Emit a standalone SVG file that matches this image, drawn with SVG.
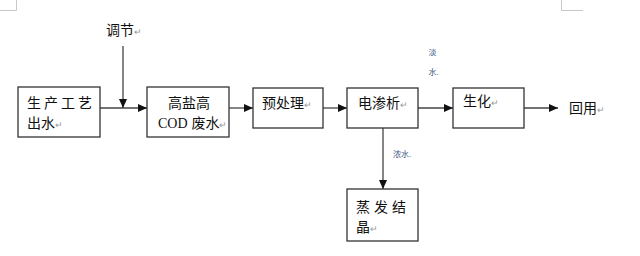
<svg xmlns="http://www.w3.org/2000/svg" width="640" height="256" viewBox="0 0 640 256">
<style>
.box{fill:#fff;stroke:#333;stroke-width:1.3}
.t{font-family:"Liberation Sans","Noto Sans CJK SC",sans-serif;font-size:14px;fill:#111}
.s{font-family:"Liberation Sans","Noto Sans CJK SC",sans-serif;font-size:8px;fill:#3d5580}
.pm{fill:#999;font-size:9px}
.ln{stroke:#444;stroke-width:1.3;fill:none}
.crop{stroke:#c8c8c8;stroke-width:1;fill:none}
</style>
<defs>
<marker id="ah" markerWidth="9" markerHeight="8" refX="9" refY="4" orient="auto" markerUnits="userSpaceOnUse">
<path d="M0,0 L9,4 L0,8 Z" fill="#111"/>
</marker>
</defs>
<rect width="640" height="256" fill="#fff"/>
<path class="crop" d="M0,10.5 H16.5 V0"/>
<path class="crop" d="M561.5,0 V10.5 H583"/>
<g id="connectors">
<line class="ln" x1="100" y1="108" x2="147" y2="108" marker-end="url(#ah)"/>
<line class="ln" x1="123" y1="46" x2="123" y2="108" marker-end="url(#ah)"/>
<line class="ln" x1="229" y1="108" x2="253" y2="108" marker-end="url(#ah)"/>
<line class="ln" x1="323" y1="108" x2="347" y2="108" marker-end="url(#ah)"/>
<line class="ln" x1="418" y1="108" x2="453" y2="108" marker-end="url(#ah)"/>
<line class="ln" x1="524" y1="108" x2="558" y2="108" marker-end="url(#ah)"/>
<line class="ln" x1="383" y1="128" x2="383" y2="189" marker-end="url(#ah)"/>
</g>
<g id="label-tiaojie"><text class="t" x="106" y="35">调节<tspan class="pm">↵</tspan></text></g>
<g id="label-danshui"><text class="s" x="428.5" y="55">淡</text><text class="s" x="428.5" y="75">水<tspan>.</tspan></text></g>
<g id="label-nongshui"><text class="s" x="393" y="157">浓水<tspan>.</tspan></text></g>
<g id="label-huiyong"><text class="t" x="569" y="113">回用<tspan class="pm">↵</tspan></text></g>
<g id="node1">
<rect class="box" x="18" y="87" width="82" height="50"/>
<text class="t" x="27" y="108" letter-spacing="3">生产工艺</text>
<text class="t" x="27" y="128">出水<tspan class="pm">↵</tspan></text>
</g>
<g id="node2">
<rect class="box" x="147" y="87" width="82" height="50"/>
<text class="t" x="168" y="108">高盐高</text>
<text class="t" x="158" y="128"><tspan font-family="Liberation Serif,serif">COD</tspan> 废水<tspan class="pm">↵</tspan></text>
</g>
<g id="node3">
<rect class="box" x="253" y="88" width="70" height="40"/>
<text class="t" x="262" y="108">预处理<tspan class="pm">↵</tspan></text>
</g>
<g id="node4">
<rect class="box" x="347" y="88" width="71" height="40"/>
<text class="t" x="358" y="108">电渗析<tspan class="pm">↵</tspan></text>
</g>
<g id="node5">
<rect class="box" x="453" y="88" width="71" height="40"/>
<text class="t" x="463" y="106">生化<tspan class="pm">↵</tspan></text>
</g>
<g id="node6">
<rect class="box" x="347" y="189" width="71" height="52"/>
<text class="t" x="356" y="212" letter-spacing="4">蒸发结</text>
<text class="t" x="356" y="232">晶<tspan class="pm">↵</tspan></text>
</g>
</svg>
